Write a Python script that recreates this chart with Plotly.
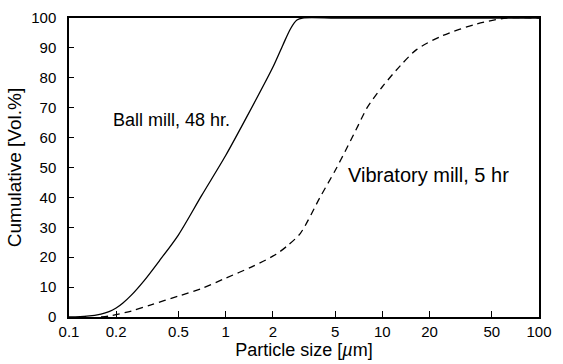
import plotly.graph_objects as go

# Ball mill, 48 hr
ball_x = [0.1, 0.13, 0.16, 0.18, 0.2, 0.22, 0.25, 0.3, 0.38, 0.5, 0.7, 1.0, 1.35, 2.0, 2.32, 2.6, 2.85, 3.1, 5, 10, 100]
ball_y = [0, 0.3, 1.0, 1.8, 3.0, 4.6, 7.3, 12, 19, 27.5, 40.5, 54, 66.5, 83.5, 91, 96.5, 99.3, 100, 100, 100, 100]

# Vibratory mill, 5 hr
vib_x = [0.16, 0.18, 0.25, 0.33, 0.5, 0.7, 1.0, 1.5, 2.1, 2.5, 3.0, 4.0, 5.0, 6.0, 7.0, 8.0, 10, 13, 16.6, 24, 40, 62, 100]
vib_y = [0, 0.3, 2, 4, 7, 9.5, 13, 17, 21, 24, 28, 40, 49, 57, 64, 70, 77, 84, 89.5, 94, 98, 100, 100]

x_tickvals = [0.1, 0.2, 0.5, 1, 2, 5, 10, 20, 50, 100]
x_ticktext = ["0.1", "0.2", "0.5", "1", "2", "5", "10", "20", "50", "100"]
y_tickvals = [0, 10, 20, 30, 40, 50, 60, 70, 80, 90, 100]

FONT = "Liberation Sans, Arial, sans-serif"

fig = go.Figure()
fig.add_trace(go.Scatter(x=ball_x, y=ball_y, mode="lines",
                         line=dict(color="black", width=1.3, shape="spline", smoothing=0.8),
                         showlegend=False))
fig.add_trace(go.Scatter(x=vib_x, y=vib_y, mode="lines",
                         line=dict(color="black", width=1.3, dash="7px,5px", shape="spline", smoothing=0.8),
                         showlegend=False))

fig.add_annotation(x=-0.73, y=66, xref="x", yref="y", text="Ball mill, 48 hr.",
                   showarrow=False, xanchor="left", yanchor="middle",
                   font=dict(family=FONT, size=18, color="black"))
fig.add_annotation(x=0.768, y=47.5, xref="x", yref="y", text="Vibratory mill, 5 hr",
                   showarrow=False, xanchor="left", yanchor="middle",
                   font=dict(family=FONT, size=20, color="black"))

fig.update_layout(
    width=563, height=364,
    margin=dict(l=69, r=24, t=9, b=47),
    paper_bgcolor="white", plot_bgcolor="white",
    font=dict(family=FONT, size=15, color="black"),
    xaxis=dict(type="log", range=[-1, 2], tickvals=x_tickvals, ticktext=x_ticktext,
               ticks="inside", ticklen=6, tickwidth=1, tickcolor="black",
               showline=True, linecolor="black", linewidth=1.5, mirror=True,
               showgrid=False, zeroline=False,
               title=dict(text="Particle size [<i>µ</i>m]", font=dict(size=18), standoff=0)),
    yaxis=dict(range=[0, 100], tickvals=y_tickvals,
               ticks="inside", ticklen=5, tickwidth=1, tickcolor="black",
               ticklabelstandoff=8,
               showline=True, linecolor="black", linewidth=1.5, mirror=True,
               showgrid=False, zeroline=False,
               title=dict(text="Cumulative [Vol.%]", font=dict(size=19), standoff=5)),
)

fig.write_html("out.html")
